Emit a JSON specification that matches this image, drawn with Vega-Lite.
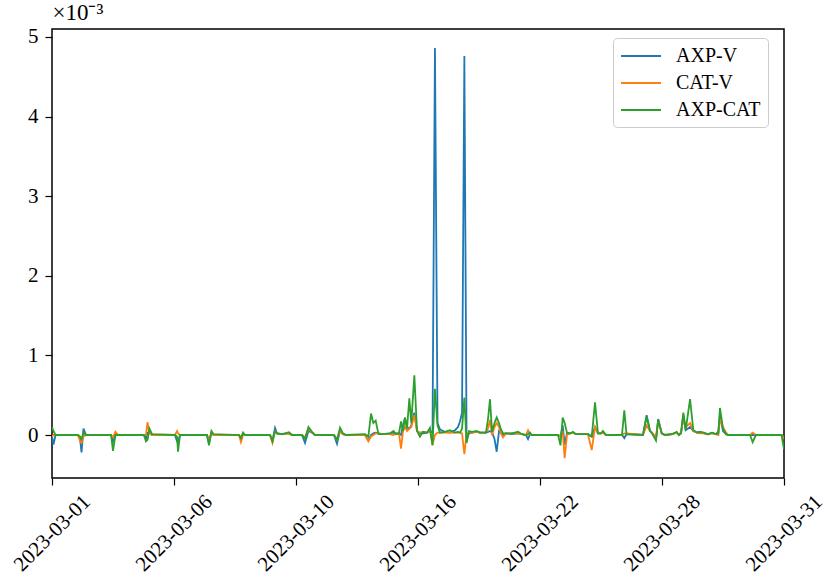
{
  "$schema": "https://vega.github.io/schema/vega-lite/v6.json",
  "width": 732,
  "height": 449,
  "autosize": {"type": "none"},
  "padding": {"left": 52, "top": 29, "right": 42, "bottom": 107},
  "background": "white",
  "data": {"values": [
    {"i": 0, "axpv": -0.02, "catv": -0.02, "axpcat": 0.10},
    {"i": 1.2, "axpv": -0.12, "catv": 0.0, "axpcat": 0.05},
    {"i": 2.9, "axpv": 0.0, "catv": 0.0, "axpcat": 0.0},
    {"i": 21.3, "axpv": 0.0, "catv": 0.0, "axpcat": 0.0},
    {"i": 23.0, "axpv": -0.05, "catv": -0.08, "axpcat": -0.02},
    {"i": 24.2, "axpv": -0.22, "catv": -0.10, "axpcat": -0.05},
    {"i": 25.8, "axpv": 0.08, "catv": -0.02, "axpcat": 0.03},
    {"i": 27.9, "axpv": 0.0, "catv": 0.0, "axpcat": 0.0},
    {"i": 48.4, "axpv": 0.0, "catv": 0.0, "axpcat": 0.0},
    {"i": 50.0, "axpv": -0.08, "catv": -0.03, "axpcat": -0.20},
    {"i": 52.0, "axpv": 0.0, "catv": 0.04, "axpcat": 0.0},
    {"i": 54.1, "axpv": 0.0, "catv": 0.0, "axpcat": 0.0},
    {"i": 75.4, "axpv": 0.0, "catv": 0.0, "axpcat": 0.0},
    {"i": 77.0, "axpv": -0.05, "catv": 0.0, "axpcat": -0.08},
    {"i": 78.3, "axpv": 0.03, "catv": 0.16, "axpcat": -0.06},
    {"i": 79.9, "axpv": 0.03, "catv": 0.02, "axpcat": 0.08},
    {"i": 82.0, "axpv": 0.0, "catv": 0.0, "axpcat": 0.01},
    {"i": 100.8, "axpv": 0.0, "catv": 0.0, "axpcat": 0.0},
    {"i": 102.5, "axpv": -0.08, "catv": 0.05, "axpcat": -0.02},
    {"i": 103.3, "axpv": -0.10, "catv": 0.02, "axpcat": -0.21},
    {"i": 104.9, "axpv": 0.0, "catv": 0.0, "axpcat": 0.0},
    {"i": 127.0, "axpv": 0.0, "catv": 0.0, "axpcat": 0.0},
    {"i": 128.7, "axpv": -0.10, "catv": -0.05, "axpcat": -0.13},
    {"i": 130.7, "axpv": 0.03, "catv": 0.03, "axpcat": 0.05},
    {"i": 132.4, "axpv": 0.0, "catv": 0.0, "axpcat": 0.01},
    {"i": 153.3, "axpv": 0.0, "catv": 0.0, "axpcat": 0.0},
    {"i": 154.9, "axpv": -0.04, "catv": -0.09, "axpcat": -0.04},
    {"i": 156.6, "axpv": 0.02, "catv": 0.0, "axpcat": 0.03},
    {"i": 158.2, "axpv": 0.0, "catv": 0.0, "axpcat": 0.0},
    {"i": 178.7, "axpv": 0.0, "catv": 0.0, "axpcat": 0.0},
    {"i": 180.7, "axpv": -0.07, "catv": -0.10, "axpcat": -0.08},
    {"i": 182.8, "axpv": 0.09, "catv": 0.05, "axpcat": 0.05},
    {"i": 184.4, "axpv": 0.02, "catv": 0.02, "axpcat": 0.02},
    {"i": 188.5, "axpv": 0.01, "catv": 0.01, "axpcat": 0.01},
    {"i": 194.3, "axpv": 0.02, "catv": 0.02, "axpcat": 0.035},
    {"i": 196.7, "axpv": 0.0, "catv": 0.0, "axpcat": 0.0},
    {"i": 204.9, "axpv": 0.0, "catv": 0.0, "axpcat": 0.0},
    {"i": 207.4, "axpv": -0.10, "catv": -0.03, "axpcat": -0.05},
    {"i": 210.2, "axpv": 0.05, "catv": 0.08, "axpcat": 0.10},
    {"i": 213.1, "axpv": 0.03, "catv": 0.03, "axpcat": 0.04},
    {"i": 215.6, "axpv": 0.0, "catv": 0.0, "axpcat": 0.0},
    {"i": 231.1, "axpv": 0.0, "catv": 0.0, "axpcat": 0.0},
    {"i": 233.6, "axpv": -0.11, "catv": -0.06, "axpcat": -0.06},
    {"i": 236.1, "axpv": 0.05, "catv": 0.05, "axpcat": 0.09},
    {"i": 238.5, "axpv": 0.01, "catv": 0.01, "axpcat": 0.02},
    {"i": 241.0, "axpv": 0.0, "catv": 0.0, "axpcat": 0.0},
    {"i": 256.6, "axpv": 0.0, "catv": 0.0, "axpcat": 0.01},
    {"i": 259.3, "axpv": -0.07, "catv": -0.08, "axpcat": -0.02},
    {"i": 261.5, "axpv": 0.0, "catv": -0.02, "axpcat": 0.27},
    {"i": 263.4, "axpv": 0.02, "catv": 0.0, "axpcat": 0.15},
    {"i": 265.3, "axpv": 0.03, "catv": 0.02, "axpcat": 0.18},
    {"i": 267.6, "axpv": 0.02, "catv": 0.02, "axpcat": 0.01},
    {"i": 271.3, "axpv": 0.01, "catv": 0.01, "axpcat": 0.01},
    {"i": 277.0, "axpv": 0.02, "catv": 0.01, "axpcat": 0.02},
    {"i": 279.9, "axpv": 0.03, "catv": 0.0, "axpcat": 0.05},
    {"i": 282.0, "axpv": 0.02, "catv": 0.02, "axpcat": 0.01},
    {"i": 284.4, "axpv": 0.02, "catv": 0.02, "axpcat": 0.02},
    {"i": 286.1, "axpv": 0.0, "catv": -0.17, "axpcat": 0.17},
    {"i": 287.7, "axpv": 0.12, "catv": 0.05, "axpcat": 0.05},
    {"i": 289.3, "axpv": 0.21, "catv": 0.10, "axpcat": 0.22},
    {"i": 291.0, "axpv": 0.10, "catv": 0.05, "axpcat": 0.08},
    {"i": 292.9, "axpv": 0.08, "catv": 0.08, "axpcat": 0.46},
    {"i": 294.5, "axpv": 0.12, "catv": 0.10, "axpcat": 0.15},
    {"i": 297.0, "axpv": 0.28, "catv": 0.25, "axpcat": 0.75},
    {"i": 299.2, "axpv": 0.05, "catv": 0.05, "axpcat": 0.05},
    {"i": 301.6, "axpv": 0.02, "catv": 0.03, "axpcat": -0.02},
    {"i": 304.1, "axpv": 0.02, "catv": 0.04, "axpcat": 0.04},
    {"i": 307.4, "axpv": 0.03, "catv": 0.03, "axpcat": 0.03},
    {"i": 309.8, "axpv": 0.05, "catv": 0.06, "axpcat": 0.09},
    {"i": 311.9, "axpv": 0.03, "catv": -0.12, "axpcat": -0.13},
    {"i": 313.9, "axpv": 4.86, "catv": 0.0, "axpcat": 0.58},
    {"i": 316.0, "axpv": 0.15, "catv": 0.03, "axpcat": 0.12},
    {"i": 318.0, "axpv": 0.07, "catv": 0.03, "axpcat": 0.03},
    {"i": 322.1, "axpv": 0.04, "catv": 0.03, "axpcat": 0.04},
    {"i": 326.2, "axpv": 0.03, "catv": 0.03, "axpcat": 0.06},
    {"i": 330.3, "axpv": 0.06, "catv": 0.03, "axpcat": 0.03},
    {"i": 332.8, "axpv": 0.10, "catv": 0.03, "axpcat": 0.04},
    {"i": 334.4, "axpv": 0.17, "catv": 0.03, "axpcat": 0.03},
    {"i": 336.1, "axpv": 0.28, "catv": 0.02, "axpcat": 0.08},
    {"i": 338.0, "axpv": 4.76, "catv": -0.24, "axpcat": 0.47},
    {"i": 339.8, "axpv": -0.06, "catv": 0.02, "axpcat": -0.10},
    {"i": 341.8, "axpv": 0.02, "catv": 0.03, "axpcat": 0.05},
    {"i": 344.3, "axpv": 0.03, "catv": 0.03, "axpcat": 0.04},
    {"i": 348.1, "axpv": 0.04, "catv": 0.04, "axpcat": 0.05},
    {"i": 350.8, "axpv": 0.03, "catv": 0.03, "axpcat": 0.03},
    {"i": 355.7, "axpv": 0.03, "catv": 0.03, "axpcat": 0.03},
    {"i": 357.4, "axpv": 0.04, "catv": 0.08, "axpcat": 0.20},
    {"i": 359.0, "axpv": 0.05, "catv": 0.19, "axpcat": 0.45},
    {"i": 360.7, "axpv": 0.03, "catv": 0.0, "axpcat": 0.04},
    {"i": 362.7, "axpv": -0.05, "catv": 0.10, "axpcat": 0.15},
    {"i": 364.5, "axpv": -0.21, "catv": 0.15, "axpcat": 0.22},
    {"i": 366.4, "axpv": 0.05, "catv": 0.10, "axpcat": 0.15},
    {"i": 368.0, "axpv": 0.03, "catv": 0.02, "axpcat": 0.07},
    {"i": 369.7, "axpv": 0.0, "catv": -0.03, "axpcat": 0.02},
    {"i": 372.1, "axpv": 0.02, "catv": 0.02, "axpcat": 0.02},
    {"i": 377.0, "axpv": 0.01, "catv": 0.02, "axpcat": 0.02},
    {"i": 382.0, "axpv": 0.02, "catv": 0.02, "axpcat": 0.04},
    {"i": 385.2, "axpv": 0.01, "catv": 0.01, "axpcat": 0.01},
    {"i": 388.5, "axpv": 0.0, "catv": 0.0, "axpcat": 0.0},
    {"i": 390.2, "axpv": -0.05, "catv": 0.06, "axpcat": 0.01},
    {"i": 391.8, "axpv": 0.01, "catv": 0.01, "axpcat": 0.03},
    {"i": 393.4, "axpv": 0.0, "catv": 0.0, "axpcat": 0.0},
    {"i": 414.8, "axpv": 0.0, "catv": 0.0, "axpcat": 0.0},
    {"i": 416.8, "axpv": -0.02, "catv": -0.02, "axpcat": -0.13},
    {"i": 418.6, "axpv": 0.12, "catv": 0.05, "axpcat": 0.22},
    {"i": 420.2, "axpv": -0.12, "catv": -0.29, "axpcat": 0.15},
    {"i": 422.1, "axpv": 0.02, "catv": 0.0, "axpcat": 0.03},
    {"i": 424.6, "axpv": 0.02, "catv": 0.02, "axpcat": 0.02},
    {"i": 427.0, "axpv": 0.03, "catv": 0.03, "axpcat": 0.04},
    {"i": 429.5, "axpv": 0.01, "catv": 0.01, "axpcat": 0.01},
    {"i": 439.3, "axpv": 0.01, "catv": 0.01, "axpcat": 0.01},
    {"i": 442.4, "axpv": -0.02, "catv": -0.19, "axpcat": -0.02},
    {"i": 445.1, "axpv": 0.10, "catv": 0.10, "axpcat": 0.41},
    {"i": 447.5, "axpv": 0.02, "catv": 0.02, "axpcat": 0.02},
    {"i": 450.0, "axpv": 0.02, "catv": 0.02, "axpcat": 0.02},
    {"i": 451.6, "axpv": 0.03, "catv": 0.03, "axpcat": 0.05},
    {"i": 454.1, "axpv": 0.0, "catv": 0.0, "axpcat": 0.0},
    {"i": 467.2, "axpv": 0.0, "catv": 0.0, "axpcat": 0.0},
    {"i": 469.1, "axpv": -0.04, "catv": 0.02, "axpcat": 0.31},
    {"i": 470.9, "axpv": 0.01, "catv": 0.02, "axpcat": 0.01},
    {"i": 484.4, "axpv": 0.0, "catv": 0.0, "axpcat": 0.0},
    {"i": 487.4, "axpv": 0.25, "catv": 0.12, "axpcat": 0.23},
    {"i": 490.2, "axpv": 0.05, "catv": 0.05, "axpcat": 0.05},
    {"i": 491.8, "axpv": 0.03, "catv": 0.03, "axpcat": 0.02},
    {"i": 495.1, "axpv": -0.04, "catv": -0.03, "axpcat": -0.07},
    {"i": 496.9, "axpv": 0.20, "catv": 0.18, "axpcat": 0.19},
    {"i": 499.8, "axpv": 0.02, "catv": 0.02, "axpcat": 0.02},
    {"i": 502.5, "axpv": 0.0, "catv": 0.0, "axpcat": 0.0},
    {"i": 508.2, "axpv": 0.01, "catv": 0.01, "axpcat": 0.01},
    {"i": 512.0, "axpv": 0.03, "catv": 0.03, "axpcat": 0.04},
    {"i": 513.9, "axpv": 0.0, "catv": 0.0, "axpcat": 0.0},
    {"i": 515.6, "axpv": 0.02, "catv": 0.03, "axpcat": 0.03},
    {"i": 517.5, "axpv": 0.25, "catv": 0.20, "axpcat": 0.28},
    {"i": 519.4, "axpv": 0.06, "catv": 0.10, "axpcat": 0.06},
    {"i": 523.0, "axpv": 0.10, "catv": 0.15, "axpcat": 0.45},
    {"i": 525.7, "axpv": 0.05, "catv": 0.05, "axpcat": 0.06},
    {"i": 528.7, "axpv": 0.03, "catv": 0.03, "axpcat": 0.03},
    {"i": 531.1, "axpv": 0.04, "catv": 0.02, "axpcat": 0.04},
    {"i": 534.4, "axpv": 0.02, "catv": 0.02, "axpcat": 0.03},
    {"i": 537.7, "axpv": 0.01, "catv": 0.01, "axpcat": 0.01},
    {"i": 541.0, "axpv": 0.03, "catv": 0.02, "axpcat": 0.03},
    {"i": 544.3, "axpv": 0.01, "catv": 0.01, "axpcat": 0.01},
    {"i": 546.2, "axpv": 0.05, "catv": 0.0, "axpcat": 0.02},
    {"i": 547.5, "axpv": 0.25, "catv": 0.20, "axpcat": 0.34},
    {"i": 550.0, "axpv": 0.05, "catv": 0.10, "axpcat": 0.08},
    {"i": 552.5, "axpv": 0.01, "catv": 0.03, "axpcat": 0.01},
    {"i": 554.3, "axpv": 0.0, "catv": 0.0, "axpcat": 0.0},
    {"i": 572.1, "axpv": 0.0, "catv": 0.0, "axpcat": 0.0},
    {"i": 574.3, "axpv": 0.0, "catv": 0.03, "axpcat": -0.09},
    {"i": 577.0, "axpv": 0.0, "catv": 0.0, "axpcat": 0.0},
    {"i": 598.0, "axpv": 0.0, "catv": 0.0, "axpcat": 0.0},
    {"i": 600.0, "axpv": -0.02, "catv": -0.05, "axpcat": -0.18}
  ]},
  "layer": [
    {
      "mark": {"type": "line", "strokeWidth": 1.8, "clip": true},
      "encoding": {
        "x": {"field": "i", "type": "quantitative",
              "scale": {"domain": [0, 600], "nice": false, "zero": false},
              "axis": {"values": [0, 100, 200, 300, 400, 500, 600],
                       "labelExpr": "['2023-03-01','2023-03-06','2023-03-10','2023-03-16','2023-03-22','2023-03-28','2023-03-31'][round(datum.value/100)]",
                       "labelAngle": -45, "labelAlign": "center", "labelBaseline": "middle",
                       "labelFontSize": 21,
                       "labelPadding": 48, "tickSize": 7, "title": null, "grid": false, "domain": false,
                       "labelOverlap": false, "labelBound": false, "labelFlush": false}},
        "y": {"field": "axpv", "type": "quantitative",
              "scale": {"domain": [-0.54, 5.1], "nice": false, "zero": false},
              "axis": {"values": [0, 1, 2, 3, 4, 5], "format": "d", "title": "×10⁻³",
                       "titleAngle": 0, "titleAlign": "left", "titleBaseline": "bottom",
                       "titleX": 0, "titleY": -5, "titleFontSize": 23, "titleFontWeight": "normal",
                       "titleFont": "Liberation Serif", "titleColor": "black",
                       "labelFontSize": 21,
                       "tickSize": 7, "labelPadding": 7, "grid": false, "domain": false}},
        "color": {"datum": "AXP-V", "type": "nominal",
                  "scale": {"domain": ["AXP-V", "CAT-V", "AXP-CAT"], "range": ["#1f77b4", "#ff7f0e", "#2ca02c"]},
                  "legend": {"title": null, "orient": "none", "legendX": 561, "legendY": 9}}
      }
    },
    {
      "mark": {"type": "line", "strokeWidth": 1.8, "clip": true},
      "encoding": {
        "x": {"field": "i", "type": "quantitative"},
        "y": {"field": "catv", "type": "quantitative"},
        "color": {"datum": "CAT-V", "type": "nominal"}
      }
    },
    {
      "mark": {"type": "line", "strokeWidth": 1.8, "clip": true},
      "encoding": {
        "x": {"field": "i", "type": "quantitative"},
        "y": {"field": "axpcat", "type": "quantitative"},
        "color": {"datum": "AXP-CAT", "type": "nominal"}
      }
    }
  ],
  "resolve": {"axis": {"y": "shared"}},
  "config": {
    "view": {"stroke": "black", "strokeWidth": 1.5},
    "axis": {"labelFont": "Liberation Serif", "labelFontSize": 20, "labelColor": "black",
             "tickColor": "black", "tickWidth": 1.2},
    "legend": {"labelFont": "Liberation Serif", "labelFontSize": 20, "labelColor": "black",
               "symbolType": "M-1,0H3", "symbolSize": 400, "symbolStrokeWidth": 2,
               "padding": 7, "cornerRadius": 4, "strokeColor": "#cccccc",
               "fillColor": "rgba(255,255,255,0.8)", "rowPadding": 6, "labelOffset": 34}
  }
}
